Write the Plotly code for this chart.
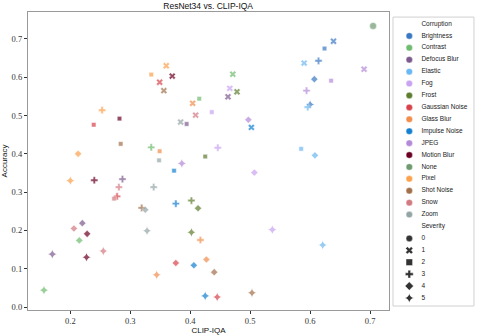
import plotly.graph_objects as go

# one entry per point: corruption, severity, CLIP-IQA score, accuracy
corruption = (
    ["Brightness"] * 5 + ["Contrast"] * 5 + ["Defocus Blur"] * 5 + ["Elastic"] * 5
    + ["Fog"] * 5 + ["Frost"] * 5 + ["Gaussian Noise"] * 5 + ["Glass Blur"] * 5
    + ["Impulse Noise"] * 5 + ["JPEG"] * 5 + ["Motion Blur"] * 5 + ["None"]
    + ["Pixel"] * 5 + ["Shot Noise"] * 5 + ["Snow"] * 5 + ["Zoom"] * 5
)
severity = [1, 2, 3, 4, 5] * 11 + [0] + [1, 2, 3, 4, 5] * 4

clip_iqa = [
    0.639, 0.624, 0.614, 0.607, 0.600,   # Brightness
    0.471, 0.415, 0.335, 0.215, 0.156,   # Contrast
    0.463, 0.394, 0.287, 0.220, 0.170,   # Defocus Blur
    0.590, 0.585, 0.596, 0.608, 0.621,   # Elastic
    0.466, 0.436, 0.446, 0.507, 0.537,   # Fog
    0.478, 0.425, 0.402, 0.413, 0.402,   # Frost
    0.349, 0.239, 0.278, 0.376, 0.445,   # Gaussian Noise
    0.404, 0.349, 0.417, 0.427, 0.344,   # Glass Blur
    0.502, 0.373, 0.376, 0.406, 0.425,   # Impulse Noise
    0.690, 0.635, 0.594, 0.497, 0.386,   # JPEG
    0.370, 0.282, 0.240, 0.228, 0.227,   # Motion Blur
    0.705,                               # None
    0.360, 0.335, 0.253, 0.213, 0.200,   # Pixel
    0.356, 0.284, 0.319, 0.440, 0.503,   # Shot Noise
    0.409, 0.273, 0.281, 0.206, 0.255,   # Snow
    0.384, 0.348, 0.339, 0.325, 0.328,   # Zoom
]
accuracy = [
    0.694, 0.675, 0.643, 0.595, 0.529,
    0.608, 0.544, 0.417, 0.174, 0.044,
    0.549, 0.478, 0.334, 0.219, 0.138,
    0.637, 0.413, 0.522, 0.396, 0.162,
    0.571, 0.509, 0.416, 0.351, 0.202,
    0.562, 0.393, 0.278, 0.258, 0.195,
    0.587, 0.476, 0.289, 0.115, 0.026,
    0.532, 0.407, 0.175, 0.124, 0.084,
    0.469, 0.356, 0.270, 0.109, 0.029,
    0.621, 0.591, 0.565, 0.489, 0.375,
    0.603, 0.492, 0.331, 0.191, 0.130,
    0.734,
    0.630, 0.607, 0.514, 0.400, 0.330,
    0.565, 0.426, 0.259, 0.091, 0.037,
    0.501, 0.283, 0.313, 0.205, 0.146,
    0.483, 0.383, 0.313, 0.254, 0.199,
]

corruption_names = [
    "Brightness", "Contrast", "Defocus Blur", "Elastic", "Fog", "Frost",
    "Gaussian Noise", "Glass Blur", "Impulse Noise", "JPEG", "Motion Blur",
    "None", "Pixel", "Shot Noise", "Snow", "Zoom",
]
severity_levels = [0, 1, 2, 3, 4, 5]

COLORS = {
    "Brightness": "#3a78c4", "Contrast": "#6fbb6f", "Defocus Blur": "#7d5a8e",
    "Elastic": "#6cb8f2", "Fog": "#c9a2f2", "Frost": "#5f7d2f",
    "Gaussian Noise": "#d8434b", "Glass Blur": "#f28d4c", "Impulse Noise": "#1480cf",
    "JPEG": "#b48ad8", "Motion Blur": "#6a0022", "None": "#6f9a6e",
    "Pixel": "#fca14c", "Shot Noise": "#a2704a", "Snow": "#d27a82", "Zoom": "#94a5a6",
}
SYMBOLS = {0: "circle", 1: "x", 2: "square", 3: "cross", 4: "diamond", 5: "star-diamond"}
SIZES = {0: 7, 1: 6, 2: 4.5, 3: 6, 4: 5.5, 5: 6.5}

SANS = "Liberation Sans"
SERIF = "Liberation Serif"

fig = go.Figure()

fig.add_trace(
    go.Scatter(
        x=clip_iqa,
        y=accuracy,
        mode="markers",
        marker={
            "color": [COLORS[c] for c in corruption],
            "symbol": [SYMBOLS[s] for s in severity],
            "size": [SIZES[s] for s in severity],
            "line": {"color": "white", "width": 0.5},
        },
        showlegend=False,
        cliponaxis=False,
    )
)

# hand-built legend on its own small axes (plotly's legend rows are too tall)
legend_labels = ["Corruption"] + corruption_names + ["Severity"] + [str(s) for s in severity_levels]
legend_rows = list(range(len(legend_labels)))
marker_rows = [r for r, lab in zip(legend_rows, legend_labels) if lab not in ("Corruption", "Severity")]
marker_colors = [COLORS[c] for c in corruption_names] + ["#333333"] * len(severity_levels)
marker_symbols = ["circle"] * len(corruption_names) + [SYMBOLS[s] for s in severity_levels]

fig.add_trace(
    go.Scatter(
        x=[0.2] * len(marker_rows),
        y=marker_rows,
        mode="markers",
        marker={"color": marker_colors, "symbol": marker_symbols, "size": 6.5,
                "line": {"color": "white", "width": 0.4}},
        xaxis="x2",
        yaxis="y2",
        showlegend=False,
        cliponaxis=False,
    )
)
fig.add_trace(
    go.Scatter(
        x=[0.35] * len(legend_rows),
        y=legend_rows,
        mode="text",
        text=legend_labels,
        textposition="middle right",
        textfont={"family": SANS, "size": 6.5, "color": "#222222"},
        xaxis="x2",
        yaxis="y2",
        showlegend=False,
        cliponaxis=False,
    )
)

fig.add_shape(
    type="rect", xref="paper", yref="paper",
    x0=0.8147, x1=0.9955, y0=0.0134, y1=0.983,
    line={"color": "#d0d0d0", "width": 1}, fillcolor="rgba(0,0,0,0)",
)

axis_common = dict(
    showgrid=False, zeroline=False, showline=True, mirror=True,
    linecolor="#9a9a9a", linewidth=1.2,
    ticks="outside", ticklen=3, tickwidth=1, tickcolor="#333333",
    tickfont={"family": SERIF, "size": 8.5, "color": "#333333"},
    tickformat=".1f",
)

fig.update_layout(
    width=478,
    height=336,
    margin={"l": 28, "r": 2, "t": 12, "b": 26},
    paper_bgcolor="white",
    plot_bgcolor="white",
    title={
        "text": "ResNet34 vs. CLIP-IQA",
        "font": {"family": SANS, "size": 8.5, "color": "#111111"},
        "x": 0.4355, "xanchor": "center",
        "y": 0.981, "yanchor": "middle",
    },
    xaxis={
        **axis_common,
        "domain": [0, 0.806],
        "range": [0.1294, 0.7317],
        "tickvals": [0.2, 0.3, 0.4, 0.5, 0.6, 0.7],
        "title": {"text": "CLIP-IQA", "font": {"family": SANS, "size": 8, "color": "#111111"},
                  "standoff": 2},
    },
    yaxis={
        **axis_common,
        "range": [-0.0078, 0.7704],
        "tickvals": [0.0, 0.1, 0.2, 0.3, 0.4, 0.5, 0.6, 0.7],
        "title": {"text": "Accuracy", "font": {"family": SANS, "size": 8, "color": "#111111"},
                  "standoff": 3},
    },
    xaxis2={"domain": [0.815, 0.9955], "range": [0, 1], "visible": False, "anchor": "y2"},
    yaxis2={"domain": [0.0403, 0.9597], "range": [len(legend_labels) - 1, 0],
            "visible": False, "anchor": "x2"},
)

# drop the browser's default page margin so the figure sits at the window's corner
fig.write_html(
    "out.html",
    config={"displayModeBar": False},
    post_script="document.body.style.margin = '0';",
)
